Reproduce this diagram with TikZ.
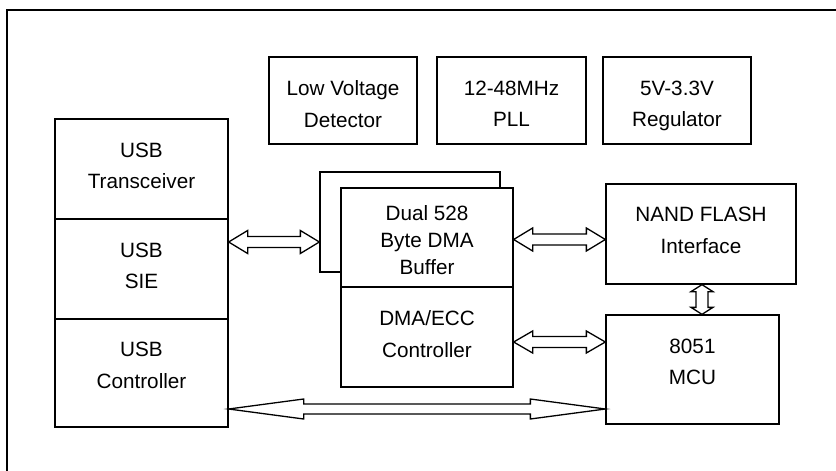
\documentclass[tikz,border=0pt]{standalone}
\usepackage{fontspec}
\setmainfont{Liberation Sans}
\usetikzlibrary{calc}
\newcommand\hollowarrow[5]{%
  \draw[arrowbody] (#1)
    -- ($(#1)!#3!(#2)!#4!90:(#2)$) -- ($(#1)!#3!(#2)!#5!90:(#2)$)
    -- ($(#2)!#3!(#1)!#5!-90:(#1)$) -- ($(#2)!#3!(#1)!#4!-90:(#1)$)
    -- (#2)
    -- ($(#2)!#3!(#1)!#4!90:(#1)$) -- ($(#2)!#3!(#1)!#5!90:(#1)$)
    -- ($(#1)!#3!(#2)!#5!-90:(#2)$) -- ($(#1)!#3!(#2)!#4!-90:(#2)$)
    -- cycle;}
\begin{document}
\begin{tikzpicture}[x=1pt,y=-1pt,
  box/.style={draw,line width=1.3pt,fill=white,inner sep=0pt},
  txt/.style={anchor=north,inner sep=0pt,align=center,font=\fontsize{20.7}{31.5}\selectfont},
  txtb/.style={txt,font=\fontsize{20.7}{27}\selectfont},
  arrowbody/.style={draw,line width=1.3pt,fill=white,line join=miter}]
\useasboundingbox (0,0) rectangle (836,471);
\draw[line width=1.3pt] (7,471) -- (7,10) -- (836,10);
% top row
\node[box,minimum width=148pt,minimum height=87pt] (lvd) at (343,100.5) {};
\node[box,minimum width=149pt,minimum height=87pt] (pll) at (511.5,100.5) {};
\node[box,minimum width=148pt,minimum height=87pt] (reg) at (677,100.5) {};
\node[txt] (lvdt) at (343,80.7) {Low Voltage\\Detector};
\node[txt] (pllt) at (511.5,80.7) {12-48MHz\\PLL};
\node[txt] (regt) at (677,80.7) {5V-3.3V\\Regulator};
% USB column
\node[box,minimum width=173pt,minimum height=100pt] (usbt) at (141.5,169) {};
\node[box,minimum width=173pt,minimum height=100pt] (usbs) at (141.5,269) {};
\node[box,minimum width=173pt,minimum height=108pt] (usbc) at (141.5,373) {};
\node[txt] (usbtt) at (141.5,142.7) {USB\\Transceiver};
\node[txt] (usbst) at (141.5,242.7) {USB\\SIE};
\node[txt] (usbct) at (141.5,342) {USB\\Controller};
% buffer
\node[box,minimum width=180pt,minimum height=100pt] (bufback) at (410,222) {};
\node[box,minimum width=172pt,minimum height=99pt] (buf) at (427,237.5) {};
\node[box,minimum width=172pt,minimum height=100pt] (dma) at (427,337) {};
\node[txtb] (buft) at (427,205.3) {Dual 528\\Byte DMA\\Buffer};
\node[txt] (dmat) at (427,310.7) {DMA/ECC\\Controller};
% right
\node[box,minimum width=190pt,minimum height=100pt] (nand) at (701,234) {};
\node[box,minimum width=173pt,minimum height=109pt] (mcu) at (692.5,369.5) {};
\node[txt] (nandt) at (701,207.3) {NAND FLASH\\Interface};
\node[txt] (mcut) at (692.5,338.7) {8051\\MCU};
% connectors
\coordinate (a1l) at (usbs.east |- 0,242);
\coordinate (a1r) at (bufback.west |- 0,242);
\coordinate (a2l) at (buf.east |- 0,239.5);
\coordinate (a2r) at (nand.west |- 0,239.5);
\coordinate (a3l) at (dma.east |- 0,342);
\coordinate (a3r) at (mcu.west |- 0,342);
\coordinate (a4t) at (702,0 |- nand.south);
\coordinate (a4b) at (702,0 |- mcu.north);
\coordinate (a5l) at (usbc.east |- 0,409);
\coordinate (a5r) at (mcu.west |- 0,409);
\hollowarrow{a1l}{a1r}{19pt}{11.5pt}{5.5pt}
\hollowarrow{a2l}{a2r}{19pt}{11.5pt}{5.5pt}
\hollowarrow{a3l}{a3r}{19pt}{11pt}{5.5pt}
\hollowarrow{a4t}{a4b}{7pt}{11pt}{6pt}
\hollowarrow{a5l}{a5r}{75pt}{10pt}{5pt}
\end{tikzpicture}
\end{document}
